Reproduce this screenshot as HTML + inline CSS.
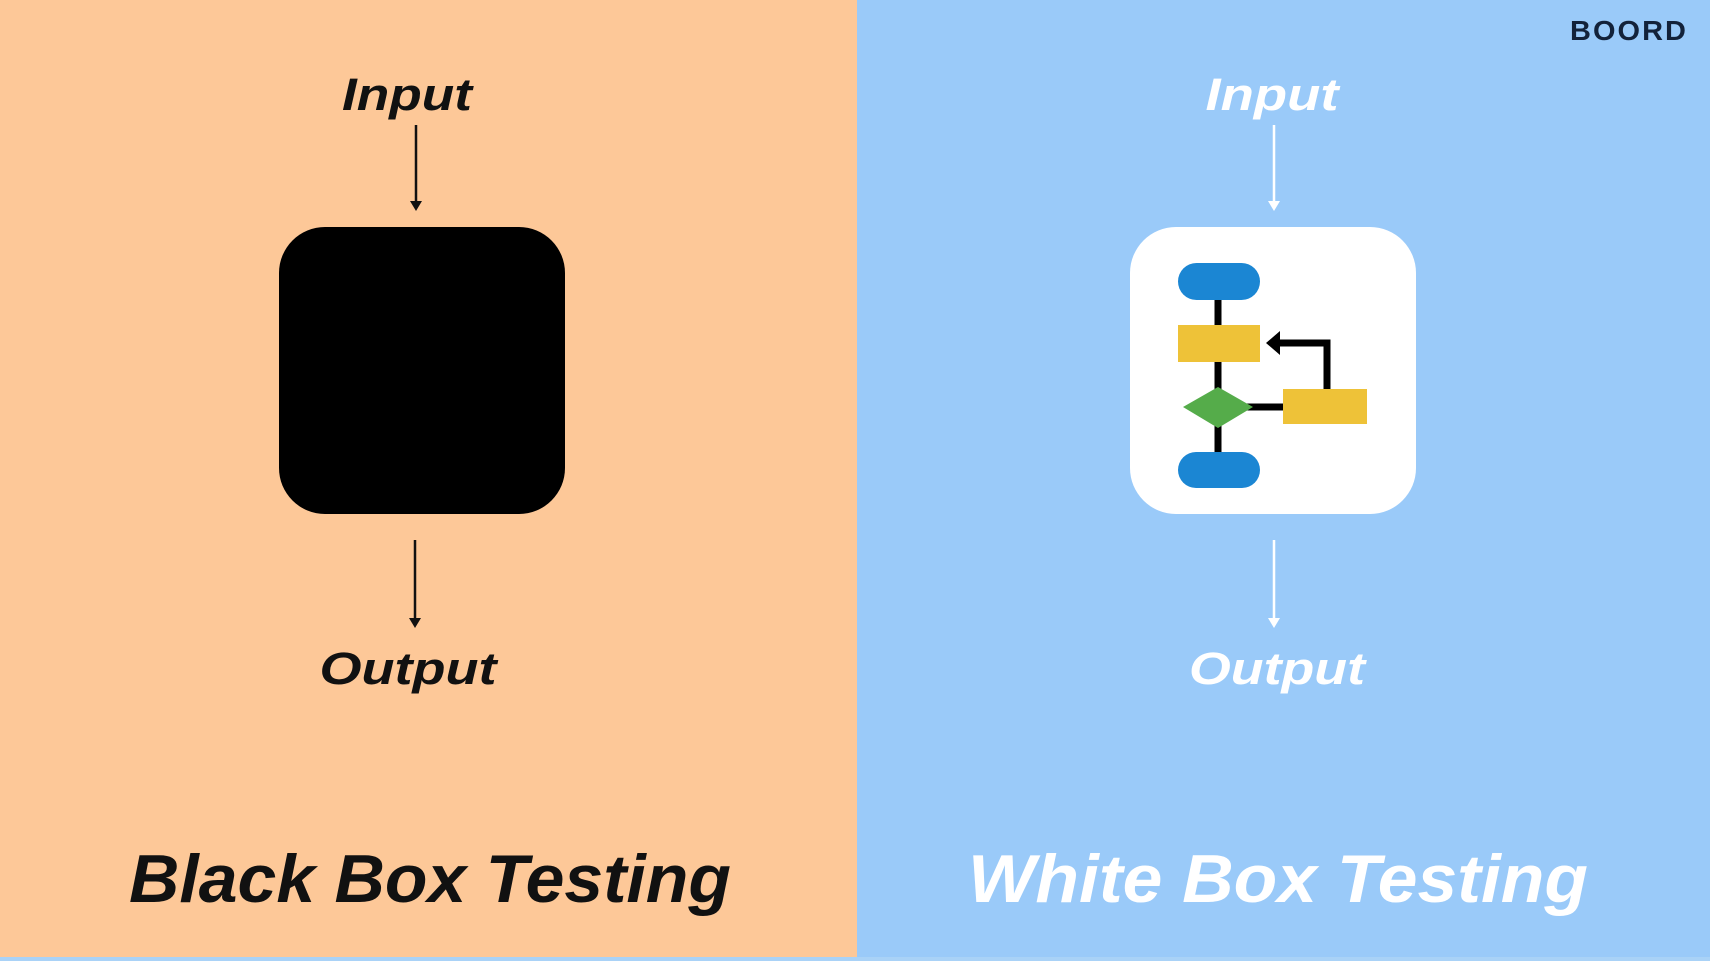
<!DOCTYPE html>
<html><head><meta charset="utf-8"><style>
html,body{margin:0;padding:0;width:1710px;height:961px;overflow:hidden}
</style></head><body>
<svg width="1710" height="961" viewBox="0 0 1710 961" xmlns="http://www.w3.org/2000/svg" font-family="Liberation Sans, sans-serif" font-weight="bold" font-style="italic">
<rect x="0" y="0" width="857" height="961" fill="#FDC898"/>
<rect x="857" y="0" width="853" height="961" fill="#9ACAF9"/>
<rect x="0" y="957" width="1710" height="4" fill="#A9D2F7"/>
<!-- left -->
<text x="407" y="110" font-size="45" text-anchor="middle" fill="#111" textLength="130" lengthAdjust="spacingAndGlyphs">Input</text>
<line x1="416" y1="125" x2="416" y2="203" stroke="#111" stroke-width="2.5"/>
<polygon points="410,201 422,201 416,211" fill="#111"/>
<rect x="279" y="227" width="286" height="287" rx="46" fill="#000"/>
<line x1="415" y1="540" x2="415" y2="620" stroke="#111" stroke-width="2.5"/>
<polygon points="409,618 421,618 415,628" fill="#111"/>
<text x="408" y="684" font-size="45" text-anchor="middle" fill="#111" textLength="177" lengthAdjust="spacingAndGlyphs">Output</text>
<text x="430" y="902" font-size="68" text-anchor="middle" fill="#111" textLength="602" lengthAdjust="spacingAndGlyphs">Black Box Testing</text>
<!-- right -->
<text x="1272" y="110" font-size="45" text-anchor="middle" fill="#fff" textLength="133" lengthAdjust="spacingAndGlyphs">Input</text>
<line x1="1274" y1="125" x2="1274" y2="203" stroke="#fff" stroke-width="2.5"/>
<polygon points="1268,201 1280,201 1274,211" fill="#fff"/>
<rect x="1130" y="227" width="286" height="287" rx="46" fill="#fff"/>
<line x1="1218" y1="290" x2="1218" y2="465" stroke="#000" stroke-width="7"/>
<line x1="1240" y1="407" x2="1290" y2="407" stroke="#000" stroke-width="7"/>
<polyline points="1327,392 1327,343 1278,343" fill="none" stroke="#000" stroke-width="7"/>
<polygon points="1266,343 1280,331 1280,355" fill="#000"/>
<rect x="1178" y="263" width="82" height="37" rx="18.5" fill="#1B86D3"/>
<rect x="1178" y="325" width="82" height="37" fill="#EEC238"/>
<rect x="1283" y="389" width="84" height="35" fill="#EEC238"/>
<polygon points="1218,387 1253,407 1218,428 1183,407" fill="#55AC4A"/>
<rect x="1178" y="452" width="82" height="36" rx="18" fill="#1B86D3"/>
<line x1="1274" y1="540" x2="1274" y2="620" stroke="#fff" stroke-width="2.5"/>
<polygon points="1268,618 1280,618 1274,628" fill="#fff"/>
<text x="1277" y="684" font-size="45" text-anchor="middle" fill="#fff" textLength="176" lengthAdjust="spacingAndGlyphs">Output</text>
<text x="1278" y="902" font-size="68" text-anchor="middle" fill="#fff" textLength="620" lengthAdjust="spacingAndGlyphs">White Box Testing</text>
<text x="1629" y="40" font-size="28" font-style="normal" text-anchor="middle" fill="#13223A" textLength="118" lengthAdjust="spacingAndGlyphs" letter-spacing="2">BOORD</text>
</svg>
</body></html>
